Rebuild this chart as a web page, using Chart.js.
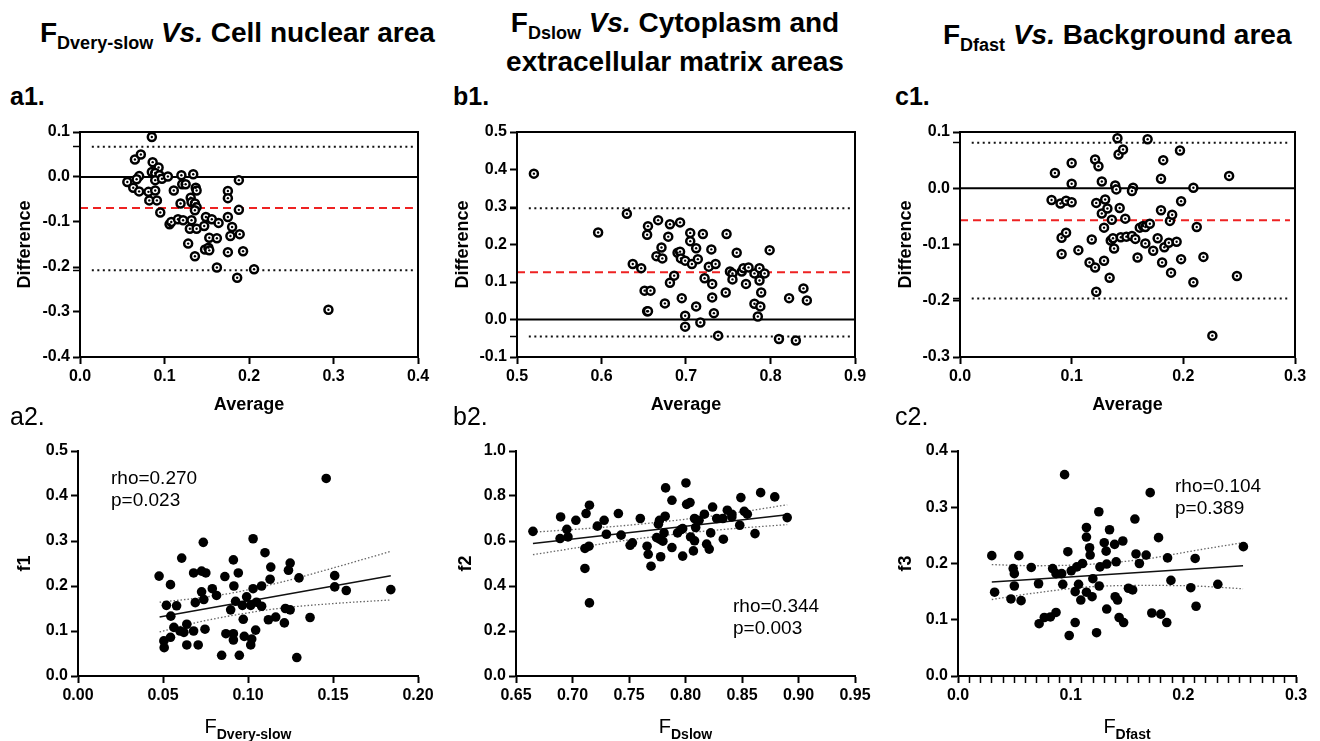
<!DOCTYPE html>
<html>
<head>
<meta charset="utf-8">
<script src="https://cdn.jsdelivr.net/npm/chart.js@4.4.1/dist/chart.umd.min.js"></script>
<style>
  body { margin: 0; width: 1320px; height: 741px; background: #fff; position: relative; overflow: hidden;
         font-family: "Liberation Sans", Arial, sans-serif; color: #000; }
  canvas { position: absolute; }
  .txt { position: absolute; white-space: nowrap; line-height: 1; z-index: 2; }
  .title { font-size: 28px; font-weight: bold; }
  .title .sub { font-size: 18px; position: relative; top: 7px; }
  .title i { font-style: italic; }
  .lab { font-size: 25px; }
  .stat { font-size: 19px; line-height: 22px; }
  .xt { font-size: 20px; text-align: center; }
  .xt .sub { font-size: 14px; font-weight: bold; position: relative; top: 6px; }
</style>
</head>
<body>

<div class="txt title" style="left:40px;top:19px;">F<span class="sub">Dvery-slow</span> <i>Vs.</i> Cell nuclear area</div>
<div class="txt title" style="left:470px;top:5px;width:410px;text-align:center;line-height:35px;">F<span class="sub">Dslow</span> <i>Vs.</i> Cytoplasm and<br>extracellular matrix areas</div>
<div class="txt title" style="left:943px;top:21px;">F<span class="sub">Dfast</span> <i>Vs.</i> Background area</div>

<div class="txt lab" style="left:10px;top:84px;font-weight:bold;">a1.</div>
<div class="txt lab" style="left:453px;top:84px;font-weight:bold;">b1.</div>
<div class="txt lab" style="left:895px;top:84px;font-weight:bold;">c1.</div>
<div class="txt lab" style="left:10px;top:404px;">a2.</div>
<div class="txt lab" style="left:453px;top:404px;">b2.</div>
<div class="txt lab" style="left:895px;top:404px;">c2.</div>

<div class="txt stat" style="left:111px;top:467px;">rho=0.270<br>p=0.023</div>
<div class="txt stat" style="left:733px;top:595px;">rho=0.344<br>p=0.003</div>
<div class="txt stat" style="left:1175px;top:475px;">rho=0.104<br>p=0.389</div>

<div class="txt xt" style="left:78px;width:340px;top:716px;">F<span class="sub">Dvery-slow</span></div>
<div class="txt xt" style="left:516px;width:339px;top:716px;">F<span class="sub">Dslow</span></div>
<div class="txt xt" style="left:958px;width:338px;top:716px;">F<span class="sub">Dfast</span></div>

<canvas id="a1" width="433" height="300" style="left:10px;top:120px;"></canvas>
<canvas id="b1" width="432" height="300" style="left:448px;top:120px;"></canvas>
<canvas id="c1" width="429" height="300" style="left:891px;top:120px;"></canvas>
<canvas id="a2" width="433" height="276" style="left:10px;top:440px;"></canvas>
<canvas id="b2" width="429" height="276" style="left:451px;top:440px;"></canvas>
<canvas id="c2" width="429" height="276" style="left:891px;top:440px;"></canvas>

<script>
// ---- a1: Bland-Altman, F Dvery-slow vs cell nuclear area
const a1X = [0.085,0.065,0.072,0.086,0.093,0.085,0.089,0.094,0.070,0.067,0.056,0.063,0.070,0.081,0.089,0.082,0.091,0.089,0.097,0.104,0.111,0.095,0.106,0.108,0.116,0.122,0.120,0.121,0.125,0.134,0.137,0.138,0.119,0.131,0.132,0.136,0.138,0.136,0.132,0.130,0.138,0.128,0.136,0.147,0.149,0.156,0.153,0.162,0.148,0.152,0.153,0.164,0.162,0.175,0.175,0.175,0.180,0.178,0.175,0.188,0.188,0.189,0.193,0.186,0.206,0.294];
const a1Y = [0.089,0.039,0.050,0.033,0.021,0.011,0.009,0.004,0.002,-0.005,-0.011,-0.024,-0.032,-0.033,-0.030,-0.052,-0.052,-0.007,-0.004,0.001,-0.030,-0.079,-0.105,-0.100,-0.094,-0.096,0.004,-0.016,-0.016,0.006,-0.024,-0.030,-0.059,-0.046,-0.056,-0.059,-0.067,-0.074,-0.096,-0.115,-0.115,-0.148,-0.176,-0.109,-0.089,-0.094,-0.135,-0.136,-0.161,-0.157,-0.163,-0.102,-0.201,-0.031,-0.047,-0.089,-0.111,-0.131,-0.167,-0.007,-0.073,-0.127,-0.165,-0.224,-0.205,-0.295];
const a1Bias = -0.069;
const a1Loa = [-0.207, 0.067];

// ---- b1: Bland-Altman, F Dslow vs cytoplasm + ECM
const b1X = [0.520,0.596,0.630,0.637,0.647,0.651,0.658,0.654,0.655,0.655,0.654,0.667,0.665,0.671,0.672,0.675,0.679,0.681,0.681,0.686,0.690,0.693,0.693,0.695,0.699,0.699,0.694,0.699,0.705,0.705,0.707,0.712,0.714,0.712,0.717,0.720,0.722,0.727,0.730,0.731,0.731,0.733,0.735,0.738,0.747,0.748,0.752,0.755,0.755,0.760,0.766,0.768,0.771,0.774,0.781,0.781,0.785,0.787,0.787,0.789,0.788,0.793,0.799,0.810,0.822,0.830,0.839,0.843];
const b1Y = [0.389,0.232,0.282,0.148,0.137,0.077,0.077,0.022,0.022,0.249,0.226,0.265,0.169,0.192,0.163,0.043,0.221,0.254,0.098,0.117,0.178,0.181,0.259,0.057,0.010,-0.019,0.163,0.157,0.231,0.209,0.148,0.190,0.161,0.035,-0.008,0.228,0.110,0.141,0.187,0.095,0.059,0.017,0.148,-0.043,0.072,0.228,0.128,0.123,0.107,0.178,0.128,0.137,0.095,0.139,0.123,0.042,0.008,0.137,0.104,0.072,0.035,0.123,0.185,-0.052,0.057,-0.056,0.083,0.051];
const b1Bias = 0.126;
const b1Loa = [-0.045, 0.297];

// ---- c1: Bland-Altman, F Dfast vs background
const c1X = [0.082,0.085,0.090,0.095,0.100,0.091,0.095,0.091,0.100,0.100,0.106,0.118,0.116,0.121,0.122,0.121,0.124,0.122,0.127,0.127,0.129,0.129,0.130,0.132,0.134,0.135,0.136,0.137,0.138,0.139,0.140,0.141,0.142,0.146,0.143,0.144,0.148,0.149,0.154,0.155,0.154,0.157,0.159,0.161,0.164,0.166,0.168,0.166,0.170,0.173,0.177,0.180,0.180,0.182,0.181,0.183,0.188,0.190,0.189,0.187,0.194,0.197,0.198,0.198,0.209,0.209,0.212,0.218,0.226,0.241,0.248];
const c1Y = [-0.021,0.027,-0.027,-0.022,-0.025,-0.088,-0.079,-0.117,0.045,0.008,-0.110,-0.091,-0.132,-0.141,-0.184,0.051,0.039,-0.026,0.012,-0.045,-0.070,-0.129,-0.020,-0.036,-0.159,-0.093,-0.056,-0.089,-0.107,0.005,-0.002,0.089,0.060,0.069,-0.035,-0.087,-0.054,-0.086,-0.085,0.001,-0.005,-0.090,-0.123,-0.070,-0.067,-0.069,0.087,-0.098,-0.063,-0.111,-0.089,-0.039,0.017,0.050,-0.132,-0.105,-0.058,-0.047,-0.150,-0.097,-0.095,0.067,-0.023,-0.126,0.001,-0.167,-0.069,-0.122,-0.262,0.022,-0.156];
const c1Bias = -0.057;
const c1Loa = [-0.196, 0.081];

// ---- a2: f1 vs F Dvery-slow
const a2X = [0.0477,0.0544,0.052,0.058,0.0546,0.0505,0.0507,0.0544,0.0564,0.060,0.0623,0.064,0.064,0.068,0.0707,0.061,0.068,0.069,0.0727,0.0737,0.0727,0.0752,0.074,0.0747,0.079,0.0815,0.0845,0.0864,0.087,0.0898,0.0914,0.0917,0.0914,0.0914,0.0927,0.0943,0.0949,0.0967,0.0972,0.0978,0.0992,0.1016,0.1016,0.1022,0.103,0.103,0.1045,0.105,0.108,0.108,0.110,0.1134,0.113,0.112,0.1163,0.1214,0.122,0.1238,0.1248,0.1248,0.130,0.1287,0.1365,0.146,0.151,0.151,0.1578,0.184];
const a2Y = [0.222,0.203,0.157,0.156,0.133,0.078,0.063,0.086,0.108,0.100,0.097,0.115,0.069,0.100,0.069,0.262,0.229,0.163,0.187,0.297,0.233,0.229,0.170,0.104,0.194,0.179,0.046,0.221,0.094,0.147,0.258,0.200,0.094,0.080,0.166,0.229,0.046,0.157,0.126,0.088,0.176,0.157,0.069,0.082,0.194,0.305,0.102,0.164,0.200,0.155,0.274,0.242,0.215,0.125,0.131,0.118,0.150,0.235,0.251,0.147,0.218,0.041,0.130,0.439,0.223,0.198,0.190,0.192];
const a2FitX = [0.048, 0.184];
const a2FitY = [0.131, 0.223];
const a2BandX = [0.048, 0.07, 0.09, 0.12, 0.15, 0.184];
const a2BandHi = [0.164, 0.173, 0.184, 0.209, 0.240, 0.277];
const a2BandLo = [0.098, 0.119, 0.134, 0.151, 0.161, 0.169];

// ---- b2: f2 vs F Dslow
const b2X = [0.665,0.6895,0.689,0.695,0.696,0.703,0.712,0.715,0.711,0.7146,0.711,0.715,0.722,0.728,0.730,0.7406,0.743,0.751,0.753,0.760,0.766,0.767,0.7695,0.776,0.777,0.7745,0.7775,0.778,0.780,0.781,0.7824,0.782,0.788,0.788,0.793,0.796,0.7975,0.7975,0.8004,0.801,0.804,0.8045,0.807,0.808,0.808,0.809,0.812,0.8167,0.8187,0.821,0.8223,0.824,0.8276,0.833,0.8335,0.837,0.841,0.841,0.848,0.849,0.852,0.8547,0.8615,0.8665,0.879,0.890];
const b2Y = [0.643,0.707,0.611,0.652,0.618,0.692,0.722,0.759,0.567,0.577,0.478,0.325,0.666,0.692,0.630,0.722,0.626,0.581,0.592,0.700,0.577,0.541,0.488,0.675,0.692,0.615,0.607,0.530,0.599,0.636,0.836,0.710,0.571,0.781,0.636,0.651,0.655,0.533,0.858,0.763,0.771,0.618,0.556,0.601,0.700,0.660,0.692,0.719,0.586,0.564,0.636,0.751,0.700,0.700,0.608,0.737,0.719,0.707,0.670,0.793,0.732,0.719,0.633,0.815,0.796,0.704];
const b2FitX = [0.665, 0.890];
const b2FitY = [0.589, 0.717];
const b2BandX = [0.665, 0.70, 0.74, 0.79, 0.84, 0.890];
const b2BandHi = [0.639, 0.651, 0.666, 0.691, 0.722, 0.761];
const b2BandLo = [0.539, 0.567, 0.598, 0.630, 0.654, 0.673];

// ---- c2: f3 vs F Dfast
const c2X = [0.030,0.0325,0.049,0.050,0.050,0.047,0.056,0.054,0.065,0.0715,0.072,0.0766,0.082,0.084,0.087,0.087,0.092,0.093,0.0946,0.0975,0.0987,0.1005,0.104,0.104,0.107,0.1055,0.109,0.1105,0.114,0.114,0.1168,0.1173,0.114,0.119,0.1197,0.123,0.125,0.1253,0.126,0.1298,0.1315,0.132,0.132,0.1345,0.139,0.1395,0.1404,0.1416,0.143,0.1463,0.147,0.1513,0.155,0.157,0.158,0.161,0.167,0.1706,0.172,0.178,0.180,0.1853,0.186,0.189,0.2066,0.2105,0.2113,0.2306,0.2533];
const c2Y = [0.214,0.149,0.191,0.182,0.160,0.137,0.134,0.214,0.193,0.164,0.093,0.104,0.105,0.191,0.113,0.182,0.182,0.163,0.358,0.221,0.072,0.187,0.095,0.150,0.163,0.194,0.135,0.200,0.264,0.247,0.228,0.215,0.149,0.141,0.173,0.077,0.292,0.160,0.194,0.237,0.222,0.199,0.119,0.260,0.234,0.141,0.203,0.135,0.104,0.240,0.095,0.156,0.153,0.279,0.217,0.200,0.215,0.326,0.112,0.246,0.110,0.095,0.210,0.170,0.157,0.209,0.124,0.163,0.230];
const c2FitX = [0.030, 0.253];
const c2FitY = [0.167, 0.196];
const c2BandX = [0.030, 0.07, 0.12, 0.17, 0.21, 0.253];
const c2BandHi = [0.198, 0.196, 0.199, 0.209, 0.223, 0.237];
const c2BandLo = [0.136, 0.148, 0.159, 0.161, 0.160, 0.155];

Chart.defaults.font.family = '"Liberation Sans", Arial, sans-serif';
Chart.defaults.color = '#000';

function pts(xs, ys) {
    return xs.map((x, i) => ({ x: x, y: ys[i] }));
}

// true when v sits on the labelled step grid
function onStep(v, step) {
    const k = v / step;
    return Math.abs(k - Math.round(k)) < 1e-6;
}

// linear axis with fixed box size so the plot area lands where the reference has it
// labelStep: only ticks on this grid get a label (minor ticks / extra LoA marks stay bare)
function axis(horiz, min, max, step, dec, size, title, labelStep, extra) {
    return {
        type: 'linear',
        position: horiz ? 'bottom' : 'left',
        min: min, max: max,
        ticks: {
            stepSize: step, maxTicksLimit: 100, autoSkip: false, maxRotation: 0, padding: 3,
            font: { size: 16, weight: 'bold' }, color: '#000',
            callback: v => onStep(v, labelStep) ? (Math.abs(v) < 1e-9 ? 0 : v).toFixed(dec) : ''
        },
        grid: {
            drawOnChartArea: false, tickLength: 7, tickColor: '#000',
            tickWidth: c => onStep(c.tick.value, labelStep) ? 2 : 1.5
        },
        border: { display: true, color: '#000', width: 2 },
        title: { display: !!title, text: title, color: '#000', padding: 4, font: { size: 18, weight: 'bold' } },
        afterBuildTicks: s => {
            if (extra) {
                extra.forEach(v => s.ticks.push({ value: v }));
                s.ticks.sort((p, q) => p.value - q.value);
            }
        },
        afterFit: s => {
            if (horiz) { s.height = size; s.paddingLeft = 0; s.paddingRight = 0; }
            else { s.width = size; s.paddingTop = 0; s.paddingBottom = 0; }
        }
    };
}

// frame around the Bland-Altman plots
const boxPlugin = {
    id: 'box',
    afterDatasetsDraw(chart) {
        const a = chart.chartArea, ctx = chart.ctx;
        ctx.save();
        ctx.strokeStyle = '#000';
        ctx.lineWidth = 2;
        ctx.strokeRect(a.left, a.top, a.right - a.left, a.bottom - a.top);
        ctx.restore();
    }
};

function hline(y, x0, x1, color, dash, order) {
    return {
        data: [{ x: x0, y: y }, { x: x1, y: y }], showLine: true, pointRadius: 0,
        borderColor: color, borderWidth: 2, borderDash: dash, order: order
    };
}

function baChart(id, xs, ys, bias, loa, xr, yr, yw) {
    const span = xr[1] - xr[0];
    new Chart(document.getElementById(id), {
        type: 'scatter',
        data: {
            datasets: [
                hline(0, xr[0], xr[1], '#000', [], 5),
                hline(bias, xr[0], xr[0] + span * 0.985, '#ee2222', [8, 5], 4),
                hline(loa[0], xr[0] + span * 0.035, xr[0] + span * 0.985, '#111', [2, 3.5], 4),
                hline(loa[1], xr[0] + span * 0.035, xr[0] + span * 0.985, '#111', [2, 3.5], 4),
                { data: pts(xs, ys), pointRadius: 4, borderWidth: 2.5, borderColor: '#000', backgroundColor: '#fff', order: 2 },
                { data: pts(xs, ys), pointRadius: 1.2, borderWidth: 0, backgroundColor: '#000', order: 1 }
            ]
        },
        options: {
            responsive: false, animation: false, events: [],
            layout: { padding: { top: 12, right: 25, left: 0, bottom: 0 } },
            plugins: { legend: { display: false }, tooltip: { enabled: false } },
            scales: {
                x: axis(true, xr[0], xr[1], 0.1, 1, 63, 'Average', 0.1),
                y: axis(false, yr[0], yr[1], 0.1, 1, yw, 'Difference', 0.1, loa)
            }
        },
        plugins: [boxPlugin]
    });
}

function corrChart(id, xs, ys, fitX, fitY, bandX, bandHi, bandLo, xr, xStep, xLab, xDec, yr, yStep, yw, yTitle, pr) {
    const band = d => ({
        data: pts(bandX, d), showLine: true, pointRadius: 0, borderColor: '#666',
        borderWidth: 1.3, borderDash: [1.5, 2], cubicInterpolationMode: 'monotone', order: 3
    });
    new Chart(document.getElementById(id), {
        type: 'scatter',
        data: {
            datasets: [
                { data: pts(fitX, fitY), showLine: true, pointRadius: 0, borderColor: '#111', borderWidth: 1.5, order: 2 },
                band(bandHi),
                band(bandLo),
                { data: pts(xs, ys), pointRadius: 4.8, borderWidth: 0, backgroundColor: '#000', order: 1 }
            ]
        },
        options: {
            responsive: false, animation: false, events: [],
            layout: { padding: { top: 11, right: pr, left: 0, bottom: 0 } },
            plugins: { legend: { display: false }, tooltip: { enabled: false } },
            scales: {
                x: axis(true, xr[0], xr[1], xStep, xDec, 40, '', xLab),
                y: axis(false, yr[0], yr[1], yStep, 1, yw, yTitle, yStep)
            }
        }
    });
}

baChart('a1', a1X, a1Y, a1Bias, a1Loa, [0, 0.4], [-0.4, 0.1], 70);
baChart('b1', b1X, b1Y, b1Bias, b1Loa, [0.5, 0.9], [-0.1, 0.5], 69);
baChart('c1', c1X, c1Y, c1Bias, c1Loa, [0, 0.3], [-0.3, 0.1], 69);

corrChart('a2', a2X, a2Y, a2FitX, a2FitY, a2BandX, a2BandHi, a2BandLo, [0, 0.2], 0.05, 0.05, 2, [0, 0.5], 0.1, 68, 'f1', 25);
corrChart('b2', b2X, b2Y, b2FitX, b2FitY, b2BandX, b2BandHi, b2BandLo, [0.65, 0.95], 0.05, 0.05, 2, [0, 1.0], 0.2, 65, 'f2', 25);
corrChart('c2', c2X, c2Y, c2FitX, c2FitY, c2BandX, c2BandHi, c2BandLo, [0, 0.3], 0.01, 0.1, 1, [0, 0.4], 0.1, 67, 'f3', 24);
</script>
</body>
</html>
